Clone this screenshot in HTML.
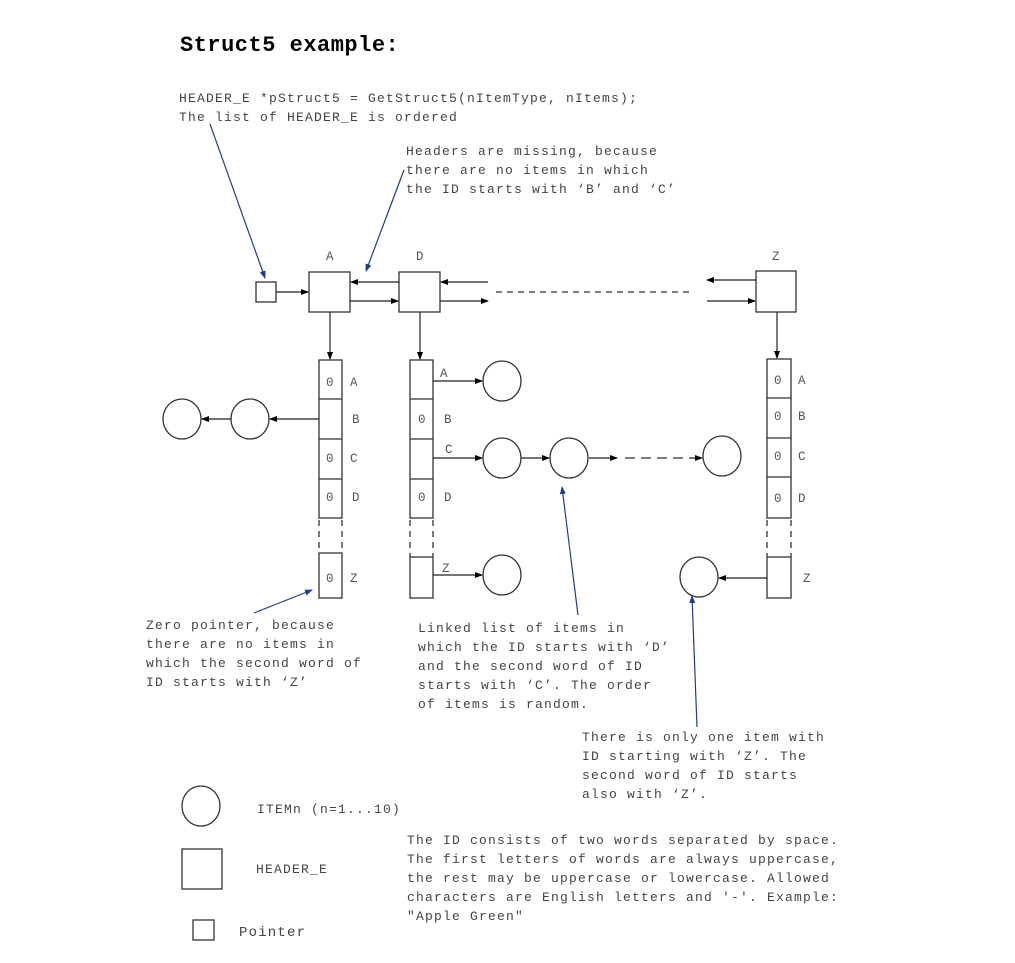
<!DOCTYPE html>
<html><head><meta charset="utf-8"><style>
html,body{margin:0;padding:0;background:#fff;}
svg{display:block;}
.t{font-family:"Liberation Mono",monospace;font-size:13px;letter-spacing:1.2px;fill:#444;}
.l{font-family:"Liberation Mono",monospace;font-size:12.5px;fill:#555;}
</style></head><body>
<svg width="1015" height="963" viewBox="0 0 1015 963" xmlns="http://www.w3.org/2000/svg">
<defs>
<marker id="a" markerWidth="8" markerHeight="8" refX="7" refY="3" orient="auto" markerUnits="userSpaceOnUse"><path d="M0,0 L8,3 L0,6 z" fill="#000"/></marker>
<marker id="b" markerWidth="8" markerHeight="8" refX="7" refY="3" orient="auto" markerUnits="userSpaceOnUse"><path d="M0,0 L8,3 L0,6 z" fill="#223a8c"/></marker>
</defs>
<rect x="0" y="0" width="1015" height="963" fill="#fff"/>
<text x="180" y="51" style="font-family:'Liberation Mono',monospace;font-size:22px;font-weight:bold;letter-spacing:0.5px" fill="#000">Struct5 example:</text>
<text class="t" x="179" y="102">HEADER_E *pStruct5 = GetStruct5(nItemType, nItems);</text>
<text class="t" x="179" y="121">The list of HEADER_E is ordered</text>
<text class="t" x="406" y="155">Headers are missing, because</text>
<text class="t" x="406" y="174">there are no items in which</text>
<text class="t" x="406" y="193">the ID starts with ‘B’ and ‘C’</text>

<g stroke="#333" stroke-width="1.3" fill="none">
<rect x="256" y="282" width="20" height="20"/>
<rect x="309" y="272" width="41" height="40"/>
<rect x="399" y="272" width="41" height="40"/>
<rect x="756" y="271" width="40" height="41"/>
<rect x="319" y="360" width="23" height="158"/>
<line x1="319" y1="399" x2="342" y2="399"/><line x1="319" y1="439" x2="342" y2="439"/><line x1="319" y1="479" x2="342" y2="479"/>
<rect x="319" y="553" width="23" height="45"/>
<rect x="410" y="360" width="23" height="158"/>
<line x1="410" y1="399" x2="433" y2="399"/><line x1="410" y1="439" x2="433" y2="439"/><line x1="410" y1="479" x2="433" y2="479"/>
<rect x="410" y="557" width="23" height="41"/>
<rect x="767" y="359" width="24" height="159"/>
<line x1="767" y1="398" x2="791" y2="398"/><line x1="767" y1="438" x2="791" y2="438"/><line x1="767" y1="477" x2="791" y2="477"/>
<rect x="767" y="557" width="24" height="41"/>
<g stroke-dasharray="6,5">
<line x1="319" y1="520" x2="319" y2="553"/><line x1="342" y1="520" x2="342" y2="553"/>
<line x1="410" y1="520" x2="410" y2="557"/><line x1="433" y1="520" x2="433" y2="557"/>
<line x1="767" y1="520" x2="767" y2="557"/><line x1="791" y1="520" x2="791" y2="557"/>
<line x1="496" y1="292" x2="692" y2="292"/>
<line x1="625" y1="458" x2="690" y2="458" stroke-dasharray="10,6"/>
</g>
<ellipse cx="182" cy="419" rx="19" ry="20"/>
<ellipse cx="250" cy="419" rx="19" ry="20"/>
<ellipse cx="502" cy="381" rx="19" ry="20"/>
<ellipse cx="502" cy="458" rx="19" ry="20"/>
<ellipse cx="569" cy="458" rx="19" ry="20"/>
<ellipse cx="722" cy="456" rx="19" ry="20"/>
<ellipse cx="502" cy="575" rx="19" ry="20"/>
<ellipse cx="699" cy="577" rx="19" ry="20"/>
<ellipse cx="201" cy="806" rx="19" ry="20"/>
<rect x="182" y="849" width="40" height="40"/>
<rect x="193" y="920" width="21" height="20"/>
</g>
<g stroke="#222" stroke-width="1.2" marker-end="url(#a)">
<line x1="276" y1="292" x2="308" y2="292"/>
<line x1="399" y1="282" x2="351" y2="282"/>
<line x1="350" y1="301" x2="398" y2="301"/>
<line x1="488" y1="282" x2="441" y2="282"/>
<line x1="440" y1="301" x2="488" y2="301"/>
<line x1="756" y1="280" x2="707" y2="280"/>
<line x1="707" y1="301" x2="755" y2="301"/>
<line x1="330" y1="312" x2="330" y2="359"/>
<line x1="420" y1="312" x2="420" y2="359"/>
<line x1="777" y1="312" x2="777" y2="358"/>
<line x1="319" y1="419" x2="270" y2="419"/>
<line x1="231" y1="419" x2="202" y2="419"/>
<line x1="433" y1="381" x2="482" y2="381"/>
<line x1="433" y1="458" x2="482" y2="458"/>
<line x1="521" y1="458" x2="549" y2="458"/>
<line x1="589" y1="458" x2="617" y2="458"/>
<line x1="690" y1="458" x2="702" y2="458"/>
<line x1="433" y1="575" x2="482" y2="575"/>
<line x1="767" y1="578" x2="719" y2="578"/>
</g>
<g stroke="#223a8c" stroke-width="1.2" marker-end="url(#b)">
<line x1="210" y1="124" x2="265" y2="278"/>
<line x1="404" y1="170" x2="366" y2="271"/>
<line x1="254" y1="613" x2="312" y2="590"/>
<line x1="578" y1="615" x2="562" y2="487"/>
<line x1="697" y1="727" x2="692" y2="596"/>
</g>
<g class="l">
<text x="326" y="260">A</text><text x="416" y="260">D</text><text x="772" y="260">Z</text>
<text x="326" y="386">0</text><text x="350" y="386">A</text>
<text x="352" y="423">B</text>
<text x="326" y="462">0</text><text x="350" y="462">C</text>
<text x="326" y="501">0</text><text x="352" y="501">D</text>
<text x="326" y="582">0</text><text x="350" y="582">Z</text>
<text x="440" y="377">A</text>
<text x="418" y="423">0</text><text x="444" y="423">B</text>
<text x="445" y="453">C</text>
<text x="418" y="501">0</text><text x="444" y="501">D</text>
<text x="442" y="572">Z</text>
<text x="774" y="384">0</text><text x="798" y="384">A</text>
<text x="774" y="420">0</text><text x="798" y="420">B</text>
<text x="774" y="460">0</text><text x="798" y="460">C</text>
<text x="774" y="502">0</text><text x="798" y="502">D</text>
<text x="803" y="582">Z</text>
</g>
<text class="t" x="146" y="629">Zero pointer, because</text>
<text class="t" x="146" y="648">there are no items in</text>
<text class="t" x="146" y="667">which the second word of</text>
<text class="t" x="146" y="686">ID starts with ‘Z’</text>
<text class="t" x="418" y="632">Linked list of items in</text>
<text class="t" x="418" y="651">which the ID starts with ‘D’</text>
<text class="t" x="418" y="670">and the second word of ID</text>
<text class="t" x="418" y="689">starts with ‘C’. The order</text>
<text class="t" x="418" y="708">of items is random.</text>
<text class="t" x="582" y="741">There is only one item with</text>
<text class="t" x="582" y="760">ID starting with ‘Z’. The</text>
<text class="t" x="582" y="779">second word of ID starts</text>
<text class="t" x="582" y="798">also with ‘Z’.</text>
<text class="t" x="257" y="813">ITEMn (n=1...10)</text>
<text class="t" x="256" y="873">HEADER_E</text>
<text class="t" x="239" y="936" style="font-size:14px">Pointer</text>
<text class="t" x="407" y="844">The ID consists of two words separated by space.</text>
<text class="t" x="407" y="863">The first letters of words are always uppercase,</text>
<text class="t" x="407" y="882">the rest may be uppercase or lowercase. Allowed</text>
<text class="t" x="407" y="901">characters are English letters and '-'. Example:</text>
<text class="t" x="407" y="920">"Apple Green"</text>
</svg>
</body></html>
